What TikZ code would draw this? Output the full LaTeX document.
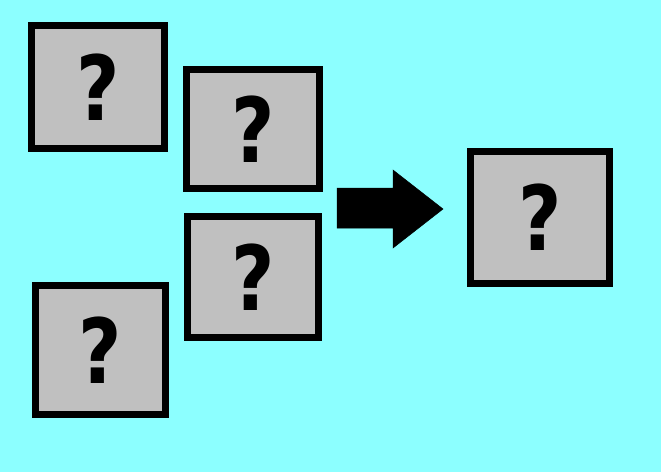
\documentclass[tikz,border=0pt]{standalone}
\usepackage{fontspec}
\setmainfont{DejaVu Sans}
\definecolor{bgcyan}{RGB}{140,255,255}
\definecolor{boxgray}{RGB}{192,192,192}
\newcommand{\qmark}{\raisebox{-2pt}{\scalebox{0.85}[1.02]{?}}}
\tikzset{
  qbox/.style={draw=black, fill=boxgray, line width=7pt, inner sep=0pt,
    font=\fontsize{88}{88}\selectfont\bfseries},
  blockarrow/.style={fill=black, draw=black, line width=0.5pt}
}
\begin{document}
\begin{tikzpicture}[x=1pt,y=-1pt]
\fill[bgcyan] (0,0) rectangle (661,472);
\useasboundingbox (0,0) rectangle (661,472);
\node[qbox, minimum width=133pt, minimum height=123pt] (b1) at (98,87) {\qmark};
\node[qbox, minimum width=133pt, minimum height=119pt] (b2) at (253,129) {\qmark};
\node[qbox, minimum width=131pt, minimum height=121pt] (b3) at (253,277) {\qmark};
\node[qbox, minimum width=130pt, minimum height=129pt] (b4) at (100.5,350) {\qmark};
\node[qbox, minimum width=139pt, minimum height=132pt] (b5) at (540,217.5) {\qmark};
\draw[blockarrow] (337,188) -- (393,188) -- (393,170) -- (443,209) -- (393,248) -- (393,228) -- (337,228) -- cycle;
\end{tikzpicture}
\end{document}
